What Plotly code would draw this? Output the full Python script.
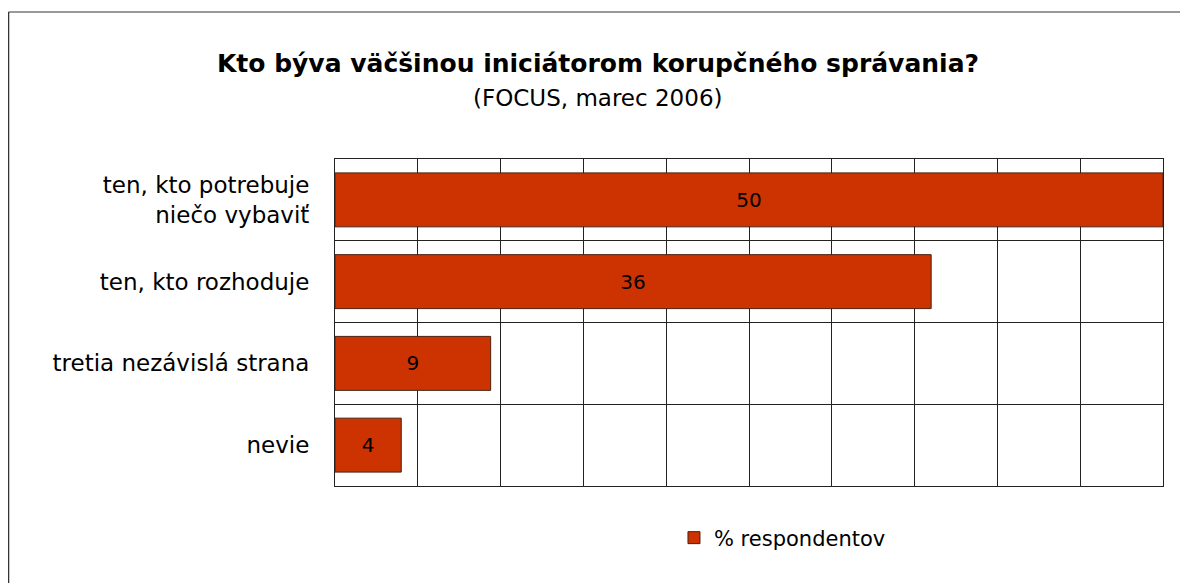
import plotly.graph_objects as go

categories = ["ten, kto potrebuje<br>niečo vybaviť", "ten, kto rozhoduje", "tretia nezávislá strana", "nevie"]
values = [50, 36, 9.4, 4]
series_name = "% respondentov"
title_main = "Kto býva väčšinou iniciátorom korupčného správania?"
title_sub = "(FOCUS, marec 2006)"

FONT = "DejaVu Sans"

# page body has an 8px margin, so the figure is sized/positioned to compensate
W, H = 1180, 575
ML, MR, MT, MB = 327, 25, 151, 97

fig = go.Figure()
fig.add_trace(go.Bar(
    y=categories, x=values, orientation="h", name=series_name,
    marker=dict(color="#CC3300", line=dict(color="#4a2010", width=1)),
    width=0.66,
    texttemplate="%{x:.0f}", textposition="inside", insidetextanchor="middle",
    textfont=dict(family=FONT, size=20, color="black"),
    showlegend=True,
))

fig.update_layout(
    width=W, height=H,
    margin=dict(l=ML, r=MR, t=MT, b=MB, autoexpand=False),
    paper_bgcolor="white", plot_bgcolor="white",
    font=dict(family=FONT, size=23, color="black"),
    title=dict(
        text=f"<b>{title_main}</b>",
        x=0.5, xanchor="center", y=0.904, yanchor="middle",
        font=dict(family=FONT, size=25, color="black"),
    ),
    annotations=[dict(text=title_sub, xref="paper", yref="paper",
                      x=0.3176, y=1.1865, xanchor="center", yanchor="middle",
                      showarrow=False, font=dict(family=FONT, size=23, color="black"))],
    xaxis=dict(range=[0, 50], dtick=5, showgrid=True, gridcolor="#222222", gridwidth=1,
               showticklabels=False, ticks="", zeroline=False,
               showline=True, linecolor="#222222", linewidth=1, mirror=True),
    yaxis=dict(categoryorder="array", categoryarray=categories, autorange="reversed",
               tickson="boundaries", showgrid=True, gridcolor="#222222", gridwidth=1,
               ticks="", showline=True, linecolor="#222222", linewidth=1, mirror=True,
               ticklabelstandoff=20, tickfont=dict(family=FONT, size=23, color="black")),
    legend=dict(orientation="h", x=0.4094, xanchor="left", y=-0.159, yanchor="middle",
                font=dict(family=FONT, size=21, color="black")),
    shapes=[
        dict(type="line", xref="paper", yref="paper", x0=-0.3943, x1=1.1, y0=1.4495, y1=1.4495,
             line=dict(color="#777777", width=1.5)),
        dict(type="line", xref="paper", yref="paper", x0=-0.3943, x1=-0.3943, y0=-0.5, y1=1.4495,
             line=dict(color="#333333", width=1.5)),
    ],
)

fig.write_html("out.html")
